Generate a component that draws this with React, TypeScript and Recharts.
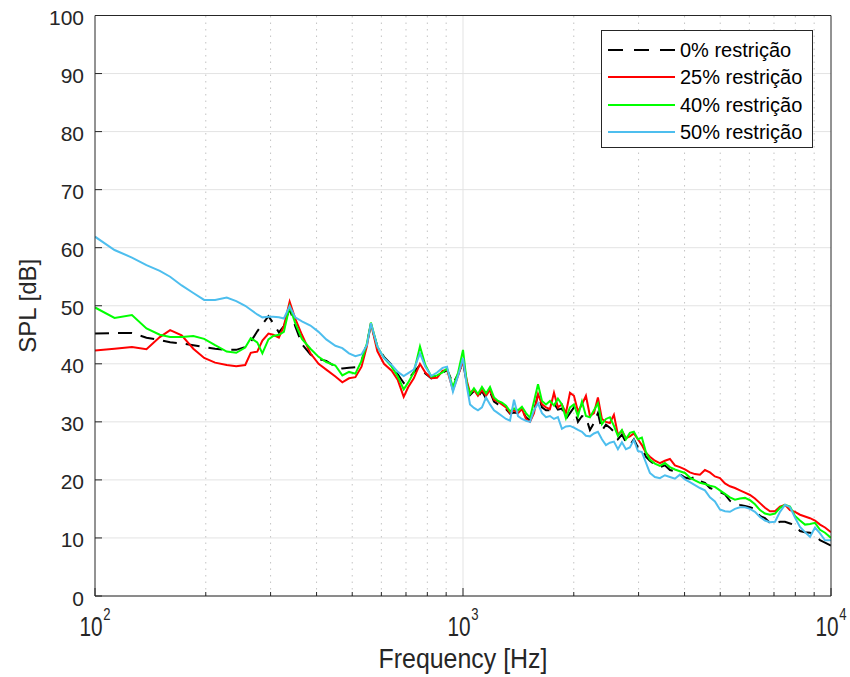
import { LineChart, Line, XAxis, YAxis, CartesianGrid, ReferenceLine, Legend } from 'recharts'

// frequency bins [Hz]
const freqs = [
  100, 113, 126, 138, 150, 160, 172, 185, 198, 212,
  228, 242, 256, 265, 276, 285, 296, 305, 316, 326,
  338, 350, 365, 385, 405, 425, 450, 470, 490, 510,
  530, 548, 562, 585, 610, 640, 665, 690, 710, 735,
  764, 790, 820, 850, 880, 905, 939, 970, 1000,
  1025, 1045, 1071, 1098, 1126, 1155, 1184, 1214, 1245, 1276,
  1309, 1342, 1376, 1411, 1446, 1483, 1521, 1559, 1599, 1639,
  1681, 1723, 1767, 1811, 1857, 1904, 1953, 2002, 2053, 2105,
  2158, 2213, 2269, 2326, 2385, 2446, 2507, 2571, 2636, 2703,
  2771, 2841, 2913, 2987, 3063, 3140, 3220,
  3322, 3428, 3537, 3650, 3766, 3885, 4009, 4136, 4268, 4404,
  4544, 4688, 4837, 4991, 5150, 5314, 5483, 5657, 5837, 6023,
  6214, 6412, 6616, 6826, 7044, 7268, 7499, 7737, 7983, 8237,
  8499, 8770, 9049, 9336, 9633, 10000,
]

// SPL [dB] - 0% restrição
const spl0 = [
  45.2, 45.3, 45.3, 44.5, 44.1, 43.7, 43.5, 43.2, 42.9, 42.6,
  42.4, 42.4, 42.9, 43.8, 45.6, 46.8, 48.2, 47.0, 45.4, 46.5,
  49.5, 46.5, 43.4, 41.6, 40.8, 40.5, 39.5, 39.2, 39.3, 39.4,
  40.5, 43.5, 46.7, 43.0, 41.2, 39.8, 38.2, 36.7, 37.4, 38.5,
  39.8, 38.3, 37.5, 38.0, 38.4, 39.0, 36.6, 38.2, 40.3,
  36.5, 34.6, 35.3, 34.3, 35.3, 34.0, 35.2, 33.5, 33.0, 32.6,
  32.2, 31.4, 31.6, 31.5, 32.0, 30.8, 30.2, 31.8, 34.8, 32.5,
  32.0, 32.0, 33.2, 32.1, 32.3, 30.5, 31.5, 32.5, 30.0, 31.0,
  30.8, 28.6, 29.8, 31.5, 28.5, 29.5, 29.0, 28.3, 27.0, 27.8,
  26.5, 26.0, 27.0, 25.6, 25.5, 24.0, 23.3,
  22.6, 22.2, 22.5, 21.7, 21.5, 21.0, 20.4, 20.2, 20.5, 19.8,
  19.5, 18.6, 18.3, 17.9, 17.5, 16.4, 16.0, 15.7, 15.5, 15.3,
  15.0, 13.8, 13.4, 12.6, 12.5, 12.8, 12.8, 12.5, 12.2, 11.2,
  11.0, 10.9, 10.5, 9.6, 9.2, 8.7,
]

// SPL [dB] - 25% restrição
const spl25 = [
  42.3, 42.6, 42.9, 42.5, 44.6, 45.8, 44.9, 42.6, 41.0, 40.2,
  39.8, 39.6, 39.8, 41.9, 42.1, 44.0, 45.2, 45.0, 44.5, 46.5,
  50.7, 47.8, 45.0, 41.8, 40.0, 39.0, 37.8, 36.8, 37.5, 37.7,
  39.5, 43.0, 47.0, 42.2, 40.0, 38.8, 37.2, 34.3, 36.0, 37.5,
  40.0, 38.5, 37.5, 37.6, 38.8, 39.0, 35.5, 38.0, 40.5,
  37.0, 35.0, 35.5, 34.5, 35.5, 34.5, 35.5, 33.8, 33.5, 33.0,
  32.5, 31.5, 32.0, 31.5, 32.2, 30.5, 30.0, 31.5, 34.8, 33.0,
  32.5, 32.2, 35.0, 32.5, 33.0, 31.5, 35.0, 34.5, 31.8, 33.0,
  34.5, 31.0, 31.5, 34.2, 30.5, 30.0, 29.8, 31.2, 27.8, 28.5,
  27.2, 27.5, 28.0, 27.0, 26.0, 24.7, 24.0,
  23.3, 22.9, 23.3, 23.6, 22.5, 22.2, 21.8, 21.3, 21.0, 20.9,
  21.7, 21.3, 20.6, 20.3, 19.4, 18.9, 18.6, 18.2, 17.8, 17.4,
  16.8, 16.0, 15.2, 14.6, 14.6, 15.4, 15.7, 14.8, 14.5, 14.0,
  13.7, 13.4, 13.0, 12.3, 11.8, 11.0,
]

// SPL [dB] - 40% restrição
const spl40 = [
  49.7, 47.9, 48.4, 46.1, 45.0, 44.6, 44.6, 44.8, 44.3, 43.2,
  42.1, 41.9, 42.8, 44.4, 43.7, 41.8, 44.2, 44.8, 45.0, 45.5,
  49.9, 47.0, 44.3, 42.6, 41.2, 40.3, 39.7, 38.0, 38.6, 38.3,
  40.5, 43.5, 47.1, 43.0, 41.0, 39.5, 37.8, 35.6, 36.8, 38.5,
  43.0, 39.8, 37.8, 38.0, 38.5, 39.2, 36.0, 38.5, 42.4,
  36.5, 34.8, 35.8, 34.8, 36.0, 34.9, 36.0, 34.2, 33.6, 33.3,
  32.8, 31.8, 32.3, 32.0, 32.6, 31.5, 30.7, 33.5, 36.5, 33.6,
  33.0, 33.6, 32.8, 34.0, 33.0, 30.6, 32.5, 33.0, 31.0, 33.5,
  31.0, 30.8, 32.0, 33.2, 29.6, 30.5, 30.8, 29.3, 27.6, 28.6,
  27.0, 28.1, 28.3, 27.0, 27.3, 24.8, 23.5,
  22.8, 22.4, 22.9, 22.2, 21.8, 21.5, 21.2, 20.4, 19.9, 19.5,
  19.3, 19.0, 18.8, 18.2, 17.6, 17.0, 16.6, 16.8, 16.9, 16.5,
  15.8, 14.8, 14.2, 14.0, 14.2, 15.2, 15.7, 15.4, 13.8, 13.0,
  12.3, 12.4, 12.6, 11.4, 10.9, 10.0,
]

// SPL [dB] - 50% restrição
const spl50 = [
  61.9, 59.6, 58.3, 57.0, 56.0, 55.0, 53.5, 52.2, 51.0, 51.0,
  51.4, 50.8, 50.0, 49.3, 48.5, 48.0, 48.1, 48.1, 48.0, 47.8,
  49.9, 48.0, 47.3, 46.6, 45.5, 44.2, 43.1, 42.7, 41.8, 41.3,
  41.6, 43.2, 47.0, 43.0, 41.0, 39.8, 38.6, 37.9, 38.4, 39.0,
  41.8, 39.5, 37.9, 38.5, 39.3, 39.5, 35.2, 38.0, 41.0,
  36.0, 33.0, 32.4, 32.0, 32.5, 34.2, 33.0, 32.0, 31.5, 31.0,
  30.5, 30.2, 33.8, 31.0, 30.5, 30.2, 30.0, 32.0, 33.2, 31.5,
  30.8, 31.0, 30.5, 30.8, 28.8, 29.2, 29.3, 29.0, 28.6, 28.3,
  27.6, 27.5, 28.0, 28.3, 27.0, 26.0, 26.4, 26.6, 25.3, 26.5,
  25.3, 25.6, 26.9, 25.0, 24.8, 23.0, 21.2,
  20.5, 20.3, 20.8, 20.5, 20.2, 20.9, 20.1, 19.6, 19.1, 18.6,
  18.2, 17.0, 16.3, 14.9, 14.6, 14.5, 15.0, 15.3, 15.3, 15.0,
  14.5, 13.6, 13.0, 12.7, 12.8, 14.5, 15.7, 15.3, 13.5, 11.9,
  11.0, 10.2, 11.8, 10.8, 9.6, 9.6,
]

const xTicks = [
  100, 200, 300, 400, 500, 600, 700, 800, 900,
  1000, 2000, 3000, 4000, 5000, 6000, 7000, 8000, 9000, 10000,
]
const decades = [100, 1000, 10000]
const minorFreqs = xTicks.filter((f) => !decades.includes(f))
const yTicks = [0, 10, 20, 30, 40, 50, 60, 70, 80, 90, 100]

const series = [
  { key: 'p0', name: '0% restrição', color: '#000000', dash: '14 9' },
  { key: 'p25', name: '25% restrição', color: '#ff0000' },
  { key: 'p40', name: '40% restrição', color: '#00ff00' },
  { key: 'p50', name: '50% restrição', color: '#4dbeee' },
]

const data = freqs.map((f, i) => ({
  f,
  p0: spl0[i],
  p25: spl25[i],
  p40: spl40[i],
  p50: spl50[i],
}))

const AXIS = '#262626'
const FONT = '"Liberation Sans", Arial, Helvetica, sans-serif'

// ticks are drawn inward, like a MATLAB box axis
function BottomTick({ x, y, payload }: any) {
  const v = payload.value
  const major = decades.includes(v)
  return (
    <g>
      <line x1={x} x2={x} y1={y} y2={y - (major ? 8 : 4)} stroke={AXIS} />
      {major && (
        // narrow 10^n label, squeezed horizontally
        <text transform={`translate(${x}, ${y + 40}) scale(0.77, 1)`} textAnchor="middle"
          fill={AXIS} fontFamily={FONT}>
          <tspan fontSize={27}>10</tspan>
          <tspan fontSize={17} dx={1} dy={-16}>{Math.round(Math.log10(v))}</tspan>
        </text>
      )}
    </g>
  )
}

function TopTick({ x, y, payload }: any) {
  const major = decades.includes(payload.value)
  return <line x1={x} x2={x} y1={y} y2={y + (major ? 8 : 4)} stroke={AXIS} />
}

function LeftTick({ x, y, payload }: any) {
  return (
    <g>
      <line x1={x} x2={x + 7} y1={y} y2={y} stroke={AXIS} />
      <text x={x - 11} y={y + 9.5} textAnchor="end" fontSize={21} fill={AXIS} fontFamily={FONT}>
        {payload.value}
      </text>
    </g>
  )
}

function RightTick({ x, y }: any) {
  return <line x1={x} x2={x - 7} y1={y} y2={y} stroke={AXIS} />
}

function XTitle({ viewBox }: any) {
  const { x = 95, y = 596, width = 736 } = viewBox || {}
  return (
    <text x={x + width / 2 - 84.5} y={y + 72} fontSize={27} fill={AXIS} fontFamily={FONT}
      textLength={169} lengthAdjust="spacingAndGlyphs">
      Frequency [Hz]
    </text>
  )
}

function YTitle({ viewBox }: any) {
  const { y = 15.5, height = 580.5 } = viewBox || {}
  const cy = y + height / 2
  return (
    <text x={36} y={cy} transform={`rotate(-90, 36, ${cy})`} textAnchor="middle"
      fontSize={24} fill={AXIS} fontFamily={FONT}>
      SPL [dB]
    </text>
  )
}

function LegendBox() {
  return (
    <div style={{
      boxSizing: 'border-box', width: 212, height: 118, border: `1px solid ${AXIS}`,
      background: '#fff', paddingTop: 5, fontFamily: FONT,
    }}>
      {series.map((s) => (
        <div key={s.key} style={{ display: 'flex', alignItems: 'center', height: 27.5 }}>
          <svg width={67} height={4} style={{ marginLeft: 6, marginRight: 5, display: 'block' }}>
            <line x1={0} x2={67} y1={2} y2={2} stroke={s.color} strokeWidth={2}
              strokeDasharray={s.dash ? '15 11' : undefined} />
          </svg>
          <span style={{ fontSize: 20, lineHeight: '20px', color: '#000' }}>{s.name}</span>
        </div>
      ))}
    </div>
  )
}

export default function App() {
  return (
    <div style={{ position: 'absolute', left: 0, top: 0, width: 850, height: 677, background: '#fff' }}>
      <LineChart width={850} height={677} data={data} margin={{ top: 14.5, right: 0, bottom: 0, left: 0 }}>
        <CartesianGrid vertical={false} stroke="#e3e3e3" />
        <ReferenceLine x={1000} stroke="#e3e3e3" />
        {minorFreqs.map((f) => (
          <ReferenceLine key={f} x={f} stroke="#c4c4c4" strokeDasharray="1.5 5" />
        ))}
        <XAxis
          dataKey="f" type="number" scale="log" domain={[100, 10000]} allowDataOverflow
          ticks={xTicks} interval={0} height={81} tickSize={0} tickMargin={0} tickLine={false}
          axisLine={{ stroke: AXIS }} tick={BottomTick} label={<XTitle />}
        />
        <XAxis
          xAxisId="top" orientation="top" type="number" scale="log" domain={[100, 10000]} allowDataOverflow
          ticks={xTicks} interval={0} height={1} tickSize={0} tickMargin={0} tickLine={false}
          axisLine={{ stroke: AXIS }} tick={TopTick}
        />
        <YAxis
          type="number" domain={[0, 100]} ticks={yTicks} interval={0} width={95}
          tickSize={0} tickMargin={0} tickLine={false} axisLine={{ stroke: AXIS }}
          tick={LeftTick} label={<YTitle />}
        />
        <YAxis
          yAxisId="right" orientation="right" type="number" domain={[0, 100]} ticks={yTicks} interval={0}
          width={19} tickSize={0} tickMargin={0} tickLine={false} axisLine={{ stroke: AXIS }} tick={RightTick}
        />
        {series.map((s) => (
          <Line
            key={s.key} dataKey={s.key} name={s.name} type="linear" stroke={s.color} strokeWidth={2}
            strokeDasharray={s.dash} dot={false} activeDot={false} isAnimationActive={false}
          />
        ))}
        <Legend
          layout="vertical" align="center" verticalAlign="middle"
          wrapperStyle={{ left: 601, top: 30, width: 212 }}
          content={<LegendBox />}
        />
      </LineChart>
    </div>
  )
}
